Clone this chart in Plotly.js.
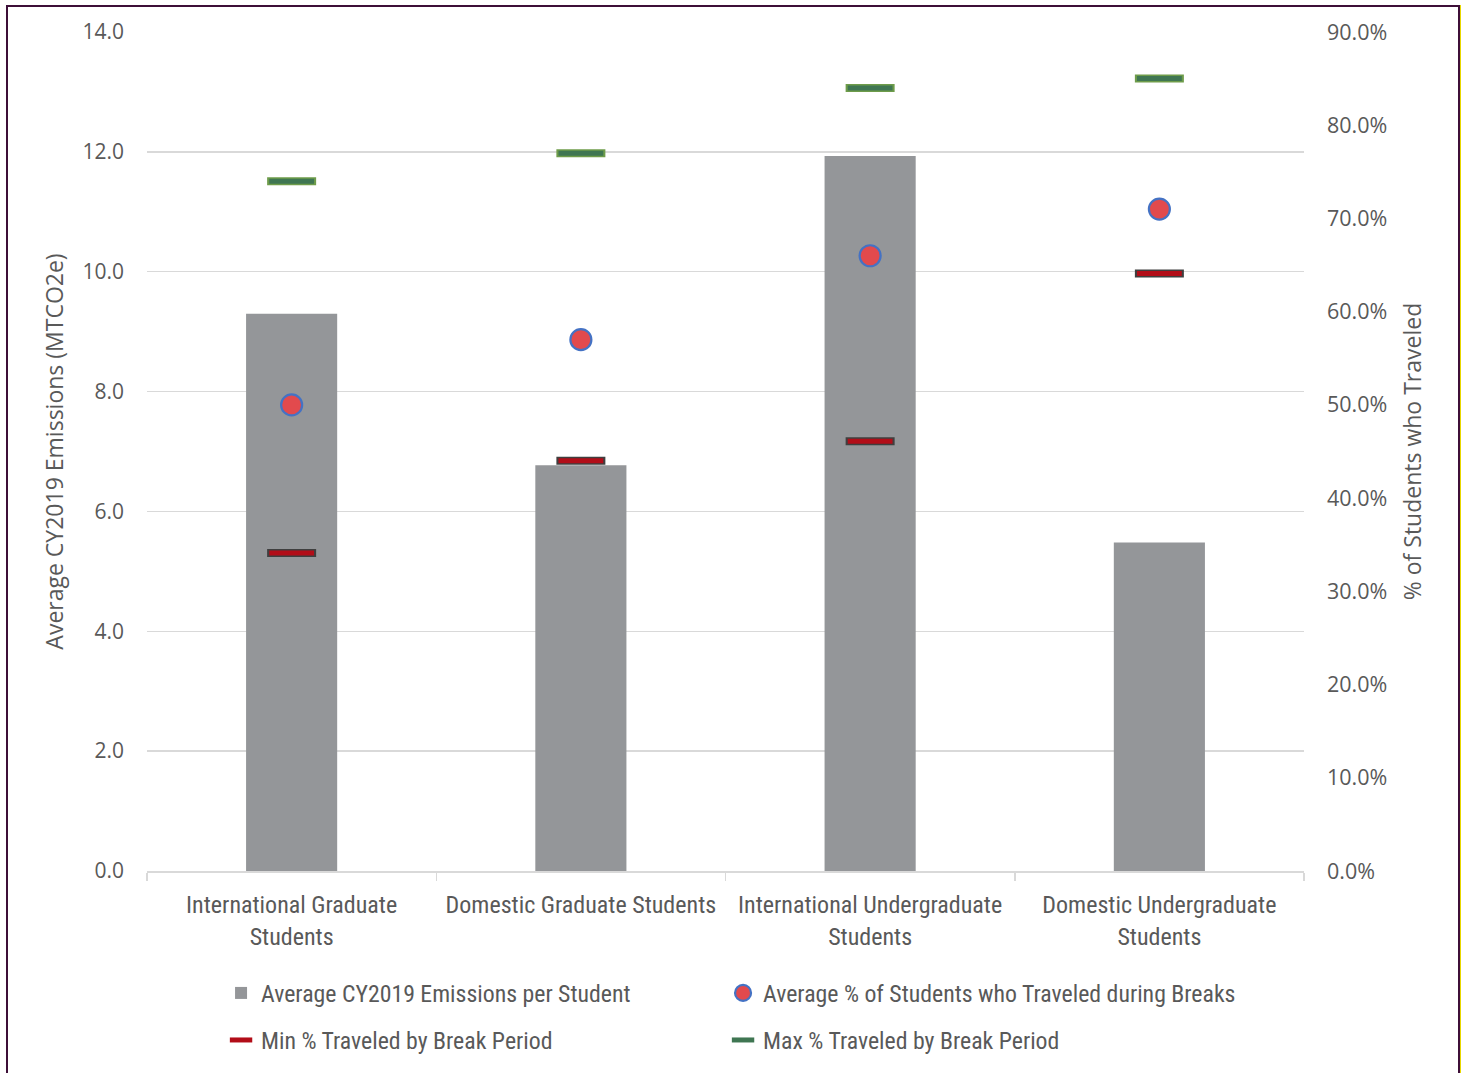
<!DOCTYPE html>
<html>
<head>
<meta charset="utf-8">
<script src="https://cdn.plot.ly/plotly-3.0.1.min.js"></script>
<style>
  html, body { margin: 0; padding: 0; background: #fff; }
  #wrap { position: relative; width: 1466px; height: 1073px; overflow: hidden; }
  #chart { position: absolute; left: 0; top: 0; width: 1466px; height: 1073px; }
  #frame { position: absolute; left: 6px; top: 5px; width: 1454px; height: 1080px;
           border: 2px solid #3d0f38; box-sizing: border-box;
           box-shadow: 1px 0 0 #e8d800; pointer-events: none; }
</style>
</head>
<body>
<div id="wrap">
  <div id="chart"></div>
  <div id="frame"></div>
</div>
<script>
// ---- data ----
const categories = [
  "International Graduate<br>Students",
  "Domestic Graduate Students",
  "International Undergraduate<br>Students",
  "Domestic Undergraduate<br>Students"
];
const avgEmissions = [9.30, 6.77, 11.93, 5.48];          // MTCO2e
const avgPctTraveled = [0.500, 0.570, 0.660, 0.710];     // share
const minPctTraveled = [0.341, 0.440, 0.461, 0.641];
const maxPctTraveled = [0.740, 0.770, 0.840, 0.850];
const leftTicks = [0, 2, 4, 6, 8, 10, 12, 14];
const rightTicks = [0, 0.1, 0.2, 0.3, 0.4, 0.5, 0.6, 0.7, 0.8, 0.9];

const labelFont = "Roboto Condensed, Liberation Sans Narrow, DejaVu Sans Condensed, Roboto, sans-serif";
const tickFont = "Open Sans, Noto Sans, sans-serif";
const textColor = "#595959";

const traces = [
  {
    type: "bar", name: "Average CY2019 Emissions per Student",
    x: categories, y: avgEmissions,
    marker: { color: "#949699" },
    legend: "legend", hoverinfo: "skip"
  },
  {
    type: "scatter", mode: "markers", name: "Average % of Students who Traveled during Breaks",
    x: categories, y: avgPctTraveled, yaxis: "y2",
    marker: { symbol: "circle", size: 21, color: "#e24a4d", line: { color: "#4472c4", width: 2.2 } },
    legend: "legend", legendwidth: 520, hoverinfo: "skip"
  },
  {
    type: "scatter", mode: "markers", name: "min-border", showlegend: false,
    x: categories, y: minPctTraveled, yaxis: "y2",
    marker: { symbol: "line-ew", size: 35, line: { color: "#3f3f3f", width: 8 } },
    hoverinfo: "skip"
  },
  {
    type: "scatter", mode: "markers", name: "Min % Traveled by Break Period",
    x: categories, y: minPctTraveled, yaxis: "y2",
    marker: { symbol: "line-ew", size: 32, line: { color: "#b20d18", width: 5 } },
    legend: "legend2", hoverinfo: "skip"
  },
  {
    type: "scatter", mode: "markers", name: "max-border", showlegend: false,
    x: categories, y: maxPctTraveled, yaxis: "y2",
    marker: { symbol: "line-ew", size: 35, line: { color: "#6e9c4a", width: 8 } },
    hoverinfo: "skip"
  },
  {
    type: "scatter", mode: "markers", name: "Max % Traveled by Break Period",
    x: categories, y: maxPctTraveled, yaxis: "y2",
    marker: { symbol: "line-ew", size: 32, line: { color: "#3f7652", width: 5 } },
    legend: "legend2", hoverinfo: "skip"
  }
];

const legendCommon = {
  orientation: "h", xanchor: "left", yanchor: "middle",
  x: 0.064, entrywidth: 457, entrywidthmode: "pixels",
  font: { family: labelFont, size: 23.8, color: textColor },
  bgcolor: "rgba(0,0,0,0)", borderwidth: 0, traceorder: "normal"
};

const layout = {
  width: 1466, height: 1073,
  margin: { l: 147, r: 162, t: 32, b: 201, pad: 0 },
  paper_bgcolor: "#ffffff", plot_bgcolor: "#ffffff",
  bargap: 0.685,
  showlegend: true,
  hovermode: false,
  xaxis: {
    type: "category",
    showgrid: false, zeroline: false,
    showline: true, linecolor: "#d9d9d9", linewidth: 1.5,
    ticks: "outside", tickson: "boundaries", ticklen: 8, tickcolor: "#d9d9d9", tickwidth: 1.5,
    tickfont: { family: labelFont, size: 24, color: textColor },
    ticklabelstandoff: 12,
    automargin: false
  },
  yaxis: {
    range: [0, 14], tickvals: leftTicks, ticktext: leftTicks.map(v => v.toFixed(1)),
    showgrid: true, gridcolor: "#d9d9d9", gridwidth: 1.5,
    zeroline: false, showline: false, ticks: "",
    tickfont: { family: tickFont, size: 21, color: textColor },
    ticklabelstandoff: 22,
    title: { text: "Average CY2019 Emissions (MTCO2e)", font: { family: tickFont, size: 23, color: textColor }, standoff: 12 },
    automargin: false
  },
  yaxis2: {
    overlaying: "y", side: "right",
    range: [0, 0.9], tickvals: rightTicks, tickformat: ".1%",
    showgrid: false, zeroline: false, showline: false, ticks: "",
    tickfont: { family: tickFont, size: 21.5, color: textColor },
    ticklabelstandoff: 22,
    title: { text: "% of Students who Traveled", font: { family: tickFont, size: 23, color: textColor }, standoff: 18 },
    automargin: false
  },
  legend: Object.assign({}, legendCommon, { y: -0.144 }),
  legend2: Object.assign({}, legendCommon, { y: -0.2 })
};

Plotly.newPlot("chart", traces, layout, { displayModeBar: false, staticPlot: true });
</script>
</body>
</html>
